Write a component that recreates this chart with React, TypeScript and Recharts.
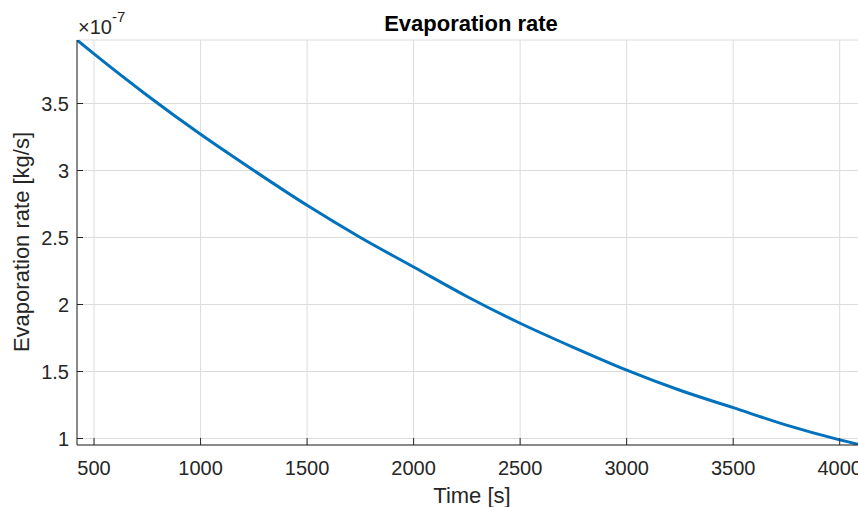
import { LineChart, Line, XAxis, YAxis, CartesianGrid } from "recharts";

// time [s]
const times = [420, 500, 750, 1000, 1250, 1500, 1750, 2000, 2250, 2500, 2750, 3000, 3250, 3500, 3750, 4000, 4100];
// evaporation rate [kg/s] x 1e-7
const rates = [3.974, 3.87, 3.56, 3.27, 3.0, 2.74, 2.5, 2.28, 2.06, 1.86, 1.68, 1.51, 1.36, 1.23, 1.1, 0.99, 0.9515];

const xTicks = [500, 1000, 1500, 2000, 2500, 3000, 3500, 4000];
const yTicks = [1, 1.5, 2, 2.5, 3, 3.5];

const data = times.map((t, i) => ({ t, rate: rates[i] }));

const ink = "#262626";
const font = "'Liberation Sans', Arial, Helvetica, sans-serif";

const BottomTick = ({ x, y, payload }: any) => (
  <g>
    <line x1={x} x2={x} y1={y} y2={y - 7} stroke={ink} strokeWidth={1} />
    <text x={x} y={y + 29.5} textAnchor="middle" fill={ink} fontSize={20} fontFamily={font}>
      {payload.value}
    </text>
  </g>
);

const TopTick = ({ x, y }: any) => (
  <line x1={x} x2={x} y1={y} y2={y + 6} stroke={ink} strokeWidth={1} />
);

const LeftTick = ({ x, y, payload }: any) => (
  <g>
    <line x1={x} x2={x + 6} y1={y} y2={y} stroke={ink} strokeWidth={1} />
    <text x={x - 8} y={y + 7} textAnchor="end" fill={ink} fontSize={20} fontFamily={font}>
      {payload.value}
    </text>
  </g>
);

export default function App() {
  return (
    <div style={{ position: "absolute", left: 0, top: 0, width: 858, height: 507, overflow: "hidden", background: "#fff" }}>
      <LineChart width={861} height={507} data={data} margin={{ top: 40, right: 0, left: 0, bottom: 0 }}>
        <CartesianGrid stroke="#dcdcdc" strokeWidth={1} />
        <XAxis
          dataKey="t"
          type="number"
          domain={[420, 4100]}
          ticks={xTicks}
          allowDataOverflow
          height={62}
          tickSize={0}
          tickMargin={0}
          stroke={ink}
          tick={<BottomTick />}
        />
        <XAxis
          xAxisId="top"
          orientation="top"
          dataKey="t"
          type="number"
          domain={[420, 4100]}
          ticks={xTicks}
          allowDataOverflow
          height={0}
          tickSize={0}
          tickMargin={0}
          stroke={ink}
          tick={<TopTick />}
        />
        <YAxis
          type="number"
          domain={[0.9515, 3.974]}
          ticks={yTicks}
          allowDataOverflow
          width={77}
          tickSize={0}
          tickMargin={0}
          stroke={ink}
          tick={<LeftTick />}
        />
        <Line
          type="monotone"
          dataKey="rate"
          stroke="#0072BD"
          strokeWidth={3}
          dot={false}
          isAnimationActive={false}
        />
      </LineChart>
      <svg width={858} height={507} style={{ position: "absolute", left: 0, top: 0, pointerEvents: "none" }}>
        <text x={471} y={31} textAnchor="middle" fill="#000" fontSize={22} fontWeight="bold" fontFamily={font}>
          Evaporation rate
        </text>
        <text x={78} y={34} fill={ink} fontSize={20} fontFamily={font}>
          ×10<tspan fontSize={15} dy={-12}>-7</tspan>
        </text>
        <text x={472} y={503} textAnchor="middle" fill={ink} fontSize={22} fontFamily={font}>
          Time [s]
        </text>
        <text
          x={0}
          y={0}
          transform="translate(29,242) rotate(-90)"
          textAnchor="middle"
          fill={ink}
          fontSize={22}
          fontFamily={font}
        >
          Evaporation rate [kg/s]
        </text>
      </svg>
    </div>
  );
}
